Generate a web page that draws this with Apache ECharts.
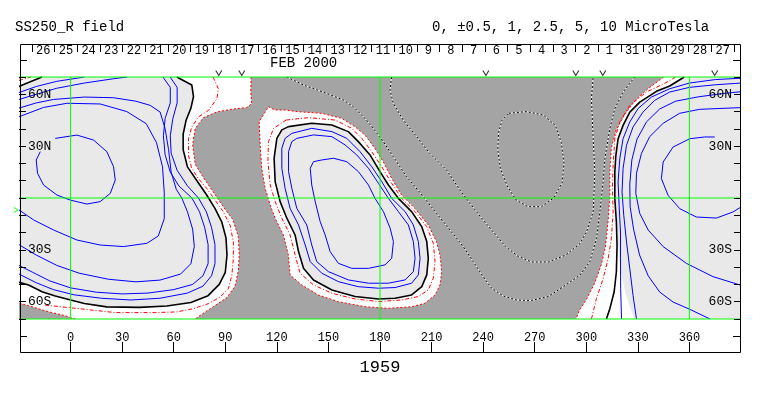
<!DOCTYPE html>
<html><head><meta charset="utf-8">
<script src="https://cdn.jsdelivr.net/npm/echarts@6/dist/echarts.min.js"></script>
<style>html,body{margin:0;padding:0;background:#fff}#c{width:763px;height:396px}</style>
</head><body><div id="c"></div>
<script>
// ---------- axis / label data ----------
const dayLabels = ['26','25','24','23','22','21','20','19','18','17','16','15','14','13','12','11','10','9','8','7','6','5','4','3','2','1','31','30','29','28','27'];
const latLabelMap = {'60':'60N','30':'30N','-30':'30S','-60':'60S'};
const greenLon = [0, 180, 360];
const greenLat = [-70, 0, 70];
const markerLon = [86.2, 99.6, 241.6, 293.9, 309.6, 374.7];
const b0Lat = [-6.9];

// ---------- Region A (left positive) ----------
const zeroA_main = [[105,70],[104.8,61.3],[105.4,54.6],[102.5,52.3],[94.7,51.5],[85.1,49.8],[77.3,46.5],[72.5,40.2],[71,31],[72.5,19.5],[77.8,11],[82.7,4],[88.5,-4.6],[94.3,-12.3],[97.5,-22],[98.1,-32.6],[97.6,-42],[95.7,-51],[91,-57.6],[83,-62.9],[76,-67.5],[72.5,-70]];
const zeroA_sw = [[2.7,-70],[-3.1,-68.1],[-12.8,-65.8],[-22.4,-62.9],[-30,-60.8]];
const zeroA_nw = [[-30,69.3],[-28,70]];
const halfA = [[82.9,70],[86,63.2],[85.1,57.4],[80.2,50.7],[74.4,46.9],[70.5,41.1],[68.6,34.3],[68.6,24.7],[70.5,17],[74.4,11.2],[79.3,5.4],[84.1,-1.3],[88.9,-8.1],[92.8,-15.8],[94.7,-25.4],[94.7,-35.1],[93.8,-44.7],[91.8,-52.5],[87,-57.3],[80.2,-61.1],[71.5,-64],[61.8,-65.9],[49.2,-66.3],[26,-66.3],[0,-63.5],[-14.7,-62]];
const halfA_nw = [[-30,68],[-23,70]];
const oneA_nw = [[-30,64.5],[-26.3,66.1],[-16.6,70]];
const oneA_main = [[61.8,70],[70.5,65.4],[71.5,58.6],[70,52],[67.2,45],[65.5,37],[65.5,28],[68,18],[73.5,10],[79,2],[84,-6],[88,-14],[90.4,-23],[91,-33],[90,-43],[86.5,-50],[80,-56.5],[70,-60.5],[56,-62.5],[40,-63.3],[21,-63],[8,-61],[0,-59],[-8.9,-56.7],[-16.6,-54.2],[-24.4,-50.3],[-30,-48.8]];
const a25_main = [[57.9,70],[62,64],[62,55],[59.5,46],[58,36],[58.5,26],[62,16],[68,7],[74.4,0],[79,-8],[82,-17],[84,-27],[84,-38],[82,-45],[77,-51],[68,-55],[52,-58],[35,-59],[18,-58],[2,-56],[-10,-53],[-20,-49],[-30,-44]];
const a25_nw = [[-30,61],[-20,64.5],[-8,67.5],[5,69.5],[8,70]];
const a5_main = [[53.7,70],[58,64],[58,55],[55,46],[54,36],[55,25],[58,15],[63,7],[70.6,0],[75,-8],[78,-17],[80,-27],[80,-38],[77,-45],[71,-50],[60,-53],[45,-55],[30,-55.5],[15,-54.5],[0,-52],[-12,-48],[-22,-43],[-30,-39]];
const a5_nw = [[-30,57],[-20,60],[-8,63.5],[8,66.5],[25,69],[33,70]];
const a10 = [[-30,52],[-20,55],[-10,57],[8,58.4],[25,58],[38,56],[46.3,53.6],[52.1,49.7],[55,40.1],[57,28],[58.5,15],[61.5,5],[64.7,0],[68,-8],[71,-18],[72,-28],[70,-38],[64,-44],[52,-47.5],[38,-48.5],[22,-47],[5,-43.5],[-8,-39],[-20,-33],[-30,-27]];
const a25b = [[-30,47],[-15.7,52.4],[-2.1,54.8],[17.2,54.4],[32.7,50],[44,43],[50,32],[53.5,18],[54.5,3],[54.5,-12],[51,-22],[44.4,-26.2],[30.8,-28.1],[17.2,-27.2],[3.7,-24.3],[-9.9,-18.5],[-21.5,-12.7],[-30,-6.9]];
const a50 = [[-8.9,34.5],[3.7,36.4],[13.4,33.5],[21.1,26.8],[25,18.1],[26,10.4],[23.1,2.7],[17.2,-2.1],[9.5,-3.5],[-0.2,-1.2],[-7.9,1.7],[-15.7,7.5],[-19.2,14.3],[-20,22],[-17.6,26.8]];

// ---------- Region B (middle positive) ----------
const zeroB = [[115.1,52.8],[119,50.9],[124.8,50.9],[132.5,49.9],[146.1,49],[157.7,46.1],[165.5,41.2],[171.3,36.4],[177.1,28.7],[181.9,21],[186.8,11.4],[192.6,1.7],[200.3,-6],[208.1,-15.6],[212.9,-25.3],[214.9,-33],[215.9,-42.6],[214.9,-50.3],[212,-56.1],[206.1,-60.9],[198.4,-62.9],[184.8,-63.8],[171.3,-62.9],[155.8,-60],[144.1,-56.1],[134.5,-50.3],[127.7,-44.5],[126.7,-33],[123.8,-21.4],[119,-11.7],[116.1,-4],[113.2,5.6],[111.2,17.2],[110.3,30.7],[109.7,44.1]];
const halfB = [[125.4,45.1],[138.4,46.5],[153.9,45.1],[163.6,40.3],[169.4,34.5],[175.2,26.8],[181,18.1],[186.8,8.5],[192.6,-0.2],[200.4,-7.9],[207.2,-16.6],[211,-26.2],[212,-36.8],[211,-46.4],[208.1,-53.2],[202.3,-57],[192.6,-59],[179.1,-59.9],[165.5,-58.4],[152,-55.1],[141.3,-50.3],[133.5,-43.5],[130.6,-32.9],[127.7,-21.4],[122.9,-11.7],[119,-2.1],[116.1,7.5],[114.8,21],[115.1,32.6],[118.1,40.3]];
const oneB = [[126.8,41.3],[140.3,43.2],[152,42.2],[161.6,38.4],[167.4,32.6],[174.2,24.9],[180,15.3],[184.9,7.5],[190.7,-0.2],[198.4,-7.9],[204.3,-16.6],[207.2,-25.2],[208.1,-34.9],[207.2,-44.5],[204.3,-51.3],[198.4,-56.1],[188.8,-58],[179.1,-58.4],[165.5,-57],[152,-53.2],[141.3,-47.4],[135.5,-40.7],[132.6,-31],[130.6,-21.4],[125.8,-11.7],[121.9,-2.1],[119,9.5],[118.4,23],[120,34.5],[122.9,39.4]];
const b25 = [[128.7,37.4],[140.3,40.3],[152,38.4],[160.7,34.5],[168.4,26.8],[175.2,18.1],[181,9.5],[186.8,-0.2],[194.6,-7.9],[199.4,-15.6],[202.3,-25.2],[203.3,-34.9],[202.3,-44.5],[198.4,-49.3],[188.8,-51.8],[179.1,-52.2],[167.4,-51.3],[155.8,-48.4],[146.1,-43.5],[139.4,-36.8],[136.5,-27.2],[132.6,-15.6],[127.7,-6],[124.8,5.6],[122.9,17.2],[122.9,28.8],[124.8,34.5]];
const b5 = [[131.6,34.5],[141.3,36.5],[152,35.5],[159.7,30.7],[166.5,24.9],[173.3,17.2],[179.1,8.5],[184.9,-0.2],[190.7,-7.9],[196.5,-15.6],[199.4,-25.2],[200.4,-34.9],[199.4,-42.6],[194.6,-47.4],[184.9,-49.3],[173.3,-49.3],[161.6,-47.4],[150,-42.6],[143.2,-36.8],[140.3,-27.2],[137.4,-15.6],[131.6,-6],[128.7,5.6],[126.8,15.3],[126.8,26.8],[128.7,32.6]];
const b10 = [[146.1,22],[152.9,23],[160.7,21],[167.4,15.3],[173.3,7.5],[177.1,-0.2],[182,-7.9],[185.9,-17.5],[187.8,-25.2],[186.8,-34.9],[182.9,-38.7],[173.3,-40.7],[163.6,-40.7],[155.8,-37.8],[151,-31],[148.1,-21.4],[145.2,-13.7],[142.3,-2.1],[140.3,7.5],[139.4,17.2],[141.3,21]];

// ---------- Region C (right positive) ----------
const zeroC = [[345,70],[335,62.5],[328.5,56.5],[322.4,48.4],[317.5,39.7],[314.6,29.1],[313.7,15.6],[313.7,0.2],[312.7,-13.3],[311.2,-27.8],[308.8,-38.4],[305,-49],[300.1,-58.6],[296,-65],[294,-70]];
const halfC = [[352,70],[346,66.5],[335,61.3],[325.3,53.6],[319.5,44],[316.6,34.3],[315.6,18.9],[315.2,5.4],[315.6,-8.1],[314.6,-23.5],[312.7,-35.1],[309.8,-46.7],[305.9,-58.2],[303,-70]];
const oneC = [[357,70],[348.5,64.8],[340.8,61.7],[331.1,55.5],[325.3,49.7],[321.4,42],[318.5,34.3],[317.2,24.7],[316.6,15],[316.6,-0.4],[317.5,-13.9],[317.9,-27.4],[317.5,-42.8],[316.2,-54.4],[313.7,-64],[311.7,-70]];
const fillC = [[357,70],[348.5,64.8],[340.8,61.7],[331.1,55.5],[325.3,49.7],[321.4,42],[318.5,34.3],[317.2,24.7],[316.6,15],[316.6,-0.4],[317.5,-13.9],[318.5,-27],[320,-42],[322.5,-54],[325,-62],[328,-70]];
const c25 = [[320.5,-70],[320,-52.4],[319.9,-35.1],[319.9,-19.7],[319.1,-4.2],[318.5,9.2],[319.5,22.8],[321.4,34.3],[325.3,44],[330.1,51.7],[337.9,58.4],[348.5,63.2],[360,66.5],[375,68.5],[390,69.3]];
const c5 = [[329.2,-70],[327.2,-56.3],[325.3,-40.9],[323.4,-25.4],[321.8,-10],[320.8,3.5],[321.4,17],[323.4,30.5],[327.2,41.1],[333,49.7],[339.8,56.5],[348.5,61.3],[360,64],[375,65.5],[390,66.5]];
const c10 = [[372,-70],[360.2,-64.4],[350.5,-60.2],[342.7,-54.4],[336,-45],[331,-33],[327.5,-18],[325.5,-5],[325.3,8],[326.5,22],[329.5,34],[335,44],[342.7,51.5],[352,56],[365,58.5],[380,60.5],[390,61.5]];
const c25b = [[390,52.3],[366,51.3],[354.3,49],[344.7,43.2],[336.9,35.5],[332.1,25.8],[329.2,14.3],[328.8,2.7],[331.1,-8.9],[336,-18.5],[344.7,-28.1],[358.2,-37.8],[373.7,-45.5],[390,-50.5]];
const c50 = [[374.7,35.3],[368.9,35.3],[360.2,34.3],[350.5,29.5],[344.7,20.8],[343.7,11.2],[347.6,1.5],[354.4,-6.2],[364,-11],[375.7,-11.6],[385.3,-8.1],[390,-5.2]];

// ---------- negative contours ----------
const negA = [[125.8,70],[135.4,65.4],[149,60.5],[158.7,56.7],[164.5,52.8],[170.3,47],[176.1,40.3],[181.9,32.6],[187.7,23.9],[195.5,12.3],[205.2,0.8],[212.9,-8.9],[220.7,-18.5],[228.4,-28.1],[234.2,-36.8],[240,-45.5],[244.9,-52.2],[251.7,-56.7],[259.4,-59],[268,-59.3],[278,-57],[288.5,-50],[296.2,-44.7],[302,-37],[305.9,-23.5],[307.9,-8.1],[309.8,9.3],[310.8,22.8],[313.7,40.1],[316.6,51.7],[321.4,61.3],[328.2,70]];
const negB = [[186.8,70],[185.8,62.5],[187.7,54.8],[193.5,45.1],[201.3,35.5],[209,25.8],[218.7,16.2],[226.5,4.6],[232.3,-3.1],[240,-12.7],[247,-21],[253,-28],[260,-33.5],[268,-37],[278,-37],[288,-33],[296.2,-26.5],[300.1,-19.7],[304,-8.1],[305,15],[304,34.3],[303,57.5],[304,70]];
const negC = [[255,49],[265,50],[275,48],[282,42],[285.5,32],[287,20],[286,9],[281,0],[274,-5],[266,-5],[259,-1],[254,7],[250,17],[248.5,28],[249,38],[251,45]];

// ---------- build ----------
const FONT = '"Liberation Mono", "DejaVu Sans Mono", monospace';
const closeL = a => a.concat([a[0]]);
const series = [];
function polyS(polys, fill, z) {
  return {
    type: 'custom', xAxisIndex: 0, yAxisIndex: 0, z: z, silent: true, clip: true,
    data: polys.map((p, i) => [p[0][0], p[0][1], i]),
    renderItem: function (params, api) {
      const p = polys[api.value(2)];
      return { type: 'polygon', shape: { points: p.map(q => api.coord(q)) }, style: { fill: fill, stroke: null } };
    }
  };
}
function lineS(data, color, dash, width, z) {
  series.push({ type: 'line', xAxisIndex: 0, yAxisIndex: 0, data: data, showSymbol: false, symbol: 'none', silent: true, z: z, clip: true,
    lineStyle: { color: color, type: dash, width: width } });
}
series.push(polyS([[[-30,-70],[390,-70],[390,70],[-30,70]]], '#a4a4a4', 1));
series.push(polyS([[[-30,70]].concat(zeroA_main, zeroA_sw), zeroB, zeroC.concat([[390,-70],[390,70]])], '#ffffff', 2));
series.push(polyS([oneA_nw.concat(oneA_main), oneB, fillC.concat([[390,-70],[390,70]])], '#e9e9e9', 3));

[negA, negB, closeL(negC)].forEach(d => { lineS(d, '#ffffff', 'solid', 1, 4); lineS(d, '#000000', [2, 2], 1, 5); });
[zeroA_main, zeroA_sw, zeroA_nw, closeL(zeroB), zeroC].forEach(d => lineS(d, '#ff0000', [2, 2], 1, 6));
[halfA, halfA_nw, closeL(halfB), halfC].forEach(d => lineS(d, '#ff0000', [4, 2, 1, 2], 1, 6));
[oneA_nw, oneA_main, closeL(oneB), oneC].forEach(d => lineS(d, '#000000', 'solid', 1.6, 7));
[a25_main, a25_nw, a5_main, a5_nw, a10, a25b, a50, closeL(b25), closeL(b5), closeL(b10), c25, c5, c10, c25b, c50]
  .forEach(d => lineS(d, '#0000ff', 'solid', 1, 7));

greenLon.forEach(l => series.push({ type: 'line', data: [[l, -70], [l, 70]], showSymbol: false, symbol: 'none', silent: true, z: 10, clip: false, lineStyle: { color: '#00ff00', width: 1 } }));
greenLat.forEach(l => series.push({ type: 'line', data: [[-30, l], [390, l]], showSymbol: false, symbol: 'none', silent: true, z: 10, clip: false, lineStyle: { color: '#00ff00', width: 1 } }));

series.push({ type: 'scatter', data: markerLon.map(l => [l, 70]), symbol: 'path://M0,0L5,9L10,0', symbolSize: [6, 5], symbolOffset: [0, -4], clip: false, silent: true, z: 11,
  itemStyle: { color: 'none', borderColor: '#000', borderWidth: 1 } });
series.push({ type: 'scatter', data: b0Lat.map(l => [-30, l]), symbol: 'path://M0,0L8,5L0,10', symbolSize: [4, 5], symbolOffset: [-3, 0], clip: false, silent: true, z: 11,
  itemStyle: { color: 'none', borderColor: '#00ff00', borderWidth: 1 } });

const latFmt = v => latLabelMap[String(v)] || '';
const tickStyle = { show: true, inside: true, lineStyle: { color: '#000', width: 1 } };
const noLine = { show: false, onZero: false };
const option = {
  animation: false,
  backgroundColor: '#ffffff',
  grid: [
    { left: 19, right: 22, top: 77, height: 242 },
    { left: 32, right: 29, top: 45, height: 6 }
  ],
  xAxis: [
    { gridIndex: 0, type: 'value', min: -30, max: 390, interval: 30, position: 'bottom', offset: 33, z: 50,
      axisLine: noLine, axisTick: Object.assign({}, tickStyle, { length: 10 }),
      axisLabel: { show: true, inside: true, margin: 8, showMinLabel: false, showMaxLabel: false, color: '#000', fontFamily: FONT, fontSize: 12 },
      splitLine: { show: false } },
    { gridIndex: 1, type: 'category', data: dayLabels, position: 'top', boundaryGap: true, z: 50,
      axisLine: noLine, axisTick: Object.assign({}, tickStyle, { length: 7, interval: 0 }),
      axisLabel: { show: true, inside: true, margin: 0, interval: 0, color: '#000', fontFamily: FONT, fontSize: 12 },
      splitLine: { show: false } }
  ],
  yAxis: [
    { gridIndex: 0, type: 'value', min: -70, max: 70, interval: 10, position: 'left', z: 50,
      axisLine: noLine, axisTick: Object.assign({}, tickStyle, { length: 7 }),
      axisLabel: { show: true, inside: true, margin: 9, formatter: latFmt, color: '#000', fontFamily: FONT, fontSize: 13 },
      splitLine: { show: false } },
    { gridIndex: 0, type: 'value', min: -70, max: 70, interval: 10, position: 'right', z: 50,
      axisLine: noLine, axisTick: Object.assign({}, tickStyle, { length: 7 }),
      axisLabel: { show: true, inside: true, margin: 9, formatter: latFmt, color: '#000', fontFamily: FONT, fontSize: 13 },
      splitLine: { show: false } },
    { gridIndex: 1, type: 'value', show: false }
  ],
  graphic: [
    { type: 'rect', shape: { x: 20.5, y: 44.5, width: 720, height: 308 }, style: { fill: null, stroke: '#000', lineWidth: 1 }, z: 100, silent: true },
    { type: 'line', shape: { x1: 20, y1: 60.5, x2: 27, y2: 60.5 }, style: { stroke: '#000', lineWidth: 1 }, z: 100 },
    { type: 'line', shape: { x1: 733, y1: 60.5, x2: 740, y2: 60.5 }, style: { stroke: '#000', lineWidth: 1 }, z: 100 },
    { type: 'line', shape: { x1: 20, y1: 336.5, x2: 27, y2: 336.5 }, style: { stroke: '#000', lineWidth: 1 }, z: 100 },
    { type: 'line', shape: { x1: 733, y1: 336.5, x2: 740, y2: 336.5 }, style: { stroke: '#000', lineWidth: 1 }, z: 100 },
    { type: 'text', x: 15, y: 27, style: { text: 'SS250_R field', font: '14px ' + FONT, fill: '#000', verticalAlign: 'middle' }, z: 100 },
    { type: 'text', x: 432, y: 27, style: { text: '0, ±0.5, 1, 2.5, 5, 10 MicroTesla', font: '14px ' + FONT, fill: '#000', verticalAlign: 'middle' }, z: 100 },
    { type: 'text', x: 270, y: 63, style: { text: 'FEB 2000', font: '14px ' + FONT, fill: '#000', verticalAlign: 'middle' }, z: 100 },
    { type: 'text', x: 380, y: 367, style: { text: '1959', font: '17px ' + FONT, fill: '#000', align: 'center', verticalAlign: 'middle' }, z: 100 }
  ],
  series: series
};
const chart = echarts.init(document.getElementById('c'), null, { renderer: 'canvas' });
chart.setOption(option);
</script></body></html>
